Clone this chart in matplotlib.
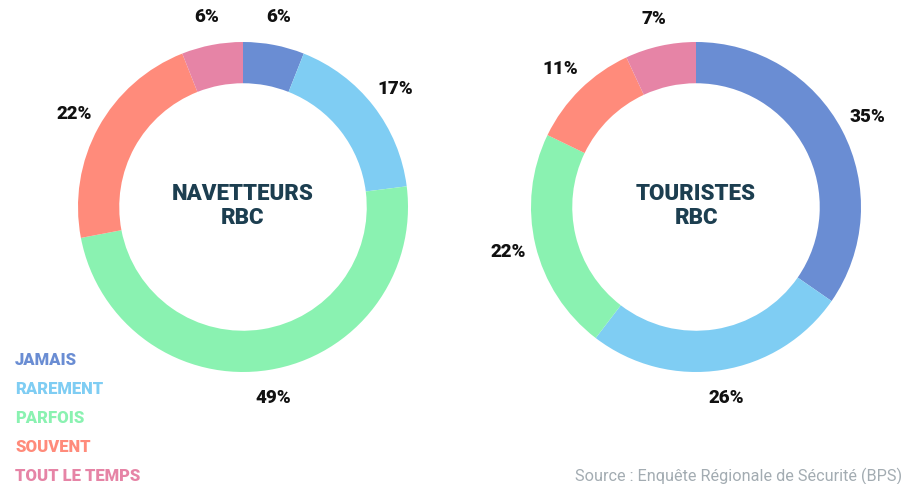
import matplotlib.pyplot as plt
import numpy as np

categories = ['JAMAIS', 'RAREMENT', 'PARFOIS', 'SOUVENT', 'TOUT LE TEMPS']
colors = ['#6a8dd3', '#7fcdf3', '#8af2b1', '#ff8b7b', '#e684a6']
navetteurs = [6, 17, 49, 22, 6]
touristes = [35, 26, 22, 11, 7]
titles = ['NAVETTEURS\nRBC', 'TOURISTES\nRBC']
source = 'Source : Enquête Régionale de Sécurité (BPS)'

plt.rcParams['font.family'] = ['Roboto', 'DejaVu Sans']

W, H = 907, 484
fig = plt.figure(figsize=(W / 100, H / 100), dpi=100)

R_PX = 165
HALF = 230


def donut(cx, cy, values, title):
    # cx, cy in pixels from top-left
    ax = fig.add_axes([(cx - HALF) / W, (H - cy - HALF) / H, 2 * HALF / W, 2 * HALF / H])
    lim = HALF / R_PX
    ax.pie(values, colors=colors, startangle=90, counterclock=False, radius=1,
           wedgeprops=dict(width=0.25, edgecolor='none'))
    total = sum(values)
    start = 90
    for v in values:
        mid = np.deg2rad(start - v / total * 360 / 2)
        start -= v / total * 360
        ax.text(1.17 * np.cos(mid), 1.17 * np.sin(mid), f'{v}%', ha='center', va='center',
                fontsize=13.5, fontweight='heavy', color='#111111')
    ax.text(0, 0.005, title, ha='center', va='center', fontsize=16, fontweight='heavy',
            color='#1c3e50', linespacing=1.15)
    ax.set_xlim(-lim, lim)
    ax.set_ylim(-lim, lim)
    ax.set_aspect('equal')
    ax.axis('off')


donut(243, 207, navetteurs, titles[0])
donut(696, 207, touristes, titles[1])

for i, (cat, col) in enumerate(zip(categories, colors)):
    fig.text(15 / W, 1 - (360 + 29 * i) / H, cat, ha='left', va='center',
             fontsize=12, fontweight='heavy', color=col)

fig.text(902 / W, 1 - 476 / H, source, ha='right', va='center', fontsize=11.7, color='#a3acb2')

fig.savefig('out.png', dpi=100)
